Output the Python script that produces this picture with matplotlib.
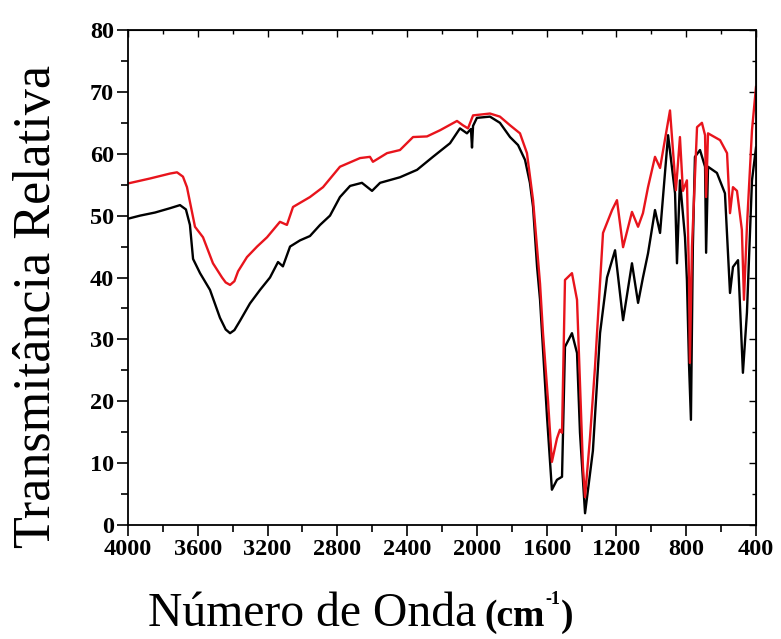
#!/usr/bin/env python3
import matplotlib
matplotlib.use('Agg')
import matplotlib.pyplot as plt
from matplotlib.ticker import MultipleLocator

# FTIR spectra: wavenumber (cm-1) and relative transmittance (%)
wn_black = [4000, 3931, 3845, 3759, 3702, 3668, 3645, 3627, 3587, 3530,
            3473, 3440, 3415, 3390, 3358, 3301, 3243, 3186, 3140, 3112,
            3071, 3014, 2957, 2899, 2842, 2785, 2727, 2659, 2601, 2555,
            2441, 2343, 2252, 2154, 2097, 2057, 2034, 2028, 2022, 2000,
            1925, 1868, 1810, 1764, 1724, 1696, 1678, 1655, 1638, 1598,
            1570, 1541, 1512, 1495, 1455, 1426, 1409, 1380, 1335, 1294,
            1254, 1208, 1162, 1111, 1076, 1048, 1019, 979, 950, 904,
            864, 853, 836, 807, 796, 784, 773, 762, 750, 721,
            692, 686, 675, 624, 578, 549, 532, 503, 475, 452,
            423, 400]
t_black = [49.5, 50.0, 50.5, 51.2, 51.7, 51.0, 48.5, 43.0, 40.7, 38.0,
           33.5, 31.6, 31.0, 31.5, 33.0, 35.8, 38.0, 40.0, 42.5, 41.8,
           45.0, 46.0, 46.7, 48.5, 50.0, 53.0, 54.8, 55.3, 54.0, 55.3,
           56.2, 57.4, 59.5, 61.7, 64.1, 63.3, 64.0, 61.0, 64.5, 65.8,
           66.0, 65.0, 62.7, 61.4, 59.0, 55.3, 51.4, 41.7, 36.4, 17.5,
           5.7, 7.3, 7.8, 28.8, 31.0, 27.8, 14.9, 1.9, 12.0, 31.0,
           40.0, 44.4, 33.1, 42.3, 35.9, 40.0, 43.9, 50.9, 47.2, 63.0,
           53.6, 42.3, 55.7, 46.5, 39.6, 26.0, 17.0, 45.0, 59.5, 60.6,
           57.9, 44.0, 57.9, 56.9, 53.6, 37.5, 41.7, 42.8, 24.6, 34.3,
           55.7, 61.0]

wn_red = [4000, 3874, 3759, 3719, 3685, 3662, 3616, 3570, 3513, 3461,
          3440, 3415, 3390, 3369, 3318, 3260, 3203, 3129, 3089, 3054,
          2957, 2882, 2785, 2670, 2613, 2596, 2515, 2441, 2366, 2286,
          2211, 2114, 2080, 2051, 2022, 1925, 1868, 1810, 1753, 1713,
          1678, 1638, 1621, 1592, 1570, 1541, 1524, 1512, 1495, 1455,
          1426, 1392, 1380, 1352, 1323, 1277, 1225, 1197, 1162, 1111,
          1076, 1048, 1019, 979, 950, 893, 859, 836, 819, 796,
          784, 779, 767, 738, 710, 692, 686, 675, 606, 566,
          549, 532, 509, 481, 469, 452, 423, 400]
t_red = [55.2, 56.0, 56.8, 57.0, 56.3, 54.6, 48.2, 46.5, 42.3, 40.0,
         39.2, 38.8, 39.4, 41.0, 43.3, 45.0, 46.5, 49.0, 48.5, 51.4,
         53.0, 54.6, 57.9, 59.3, 59.5, 58.7, 60.1, 60.6, 62.7, 62.8,
         63.8, 65.3, 64.6, 64.1, 66.2, 66.5, 66.0, 64.6, 63.3, 60.1,
         52.5, 39.0, 31.0, 20.0, 10.2, 14.0, 15.4, 14.9, 39.6, 40.7,
         36.4, 9.4, 4.5, 14.0, 25.5, 47.2, 50.9, 52.5, 44.9, 50.6,
         48.2, 50.4, 54.6, 59.5, 57.7, 67.0, 54.1, 62.7, 54.0, 55.7,
         40.0, 26.2, 45.0, 64.3, 65.0, 63.0, 53.0, 63.3, 62.2, 60.1,
         50.4, 54.6, 54.0, 47.7, 36.4, 48.2, 63.8, 70.8]

x_ticks = [4000, 3600, 3200, 2800, 2400, 2000, 1600, 1200, 800, 400]

plt.rcParams['font.family'] = 'Liberation Serif'

fig = plt.figure(figsize=(7.81, 6.39), dpi=100)
ax = fig.add_axes([128 / 781, 1 - 525 / 639, 628 / 781, 495 / 639])

ax.plot(wn_black, t_black, color='black', lw=1.7)
ax.plot(wn_red, t_red, color='#e8141c', lw=1.7)

ax.set_xlim(4000, 400)
ax.set_ylim(0, 80)
ax.set_xticks(x_ticks)
ax.xaxis.set_minor_locator(MultipleLocator(200))
ax.yaxis.set_major_locator(MultipleLocator(10))
ax.yaxis.set_minor_locator(MultipleLocator(5))

for sp in ax.spines.values():
    sp.set_linewidth(1.3)

ax.tick_params(which='both', direction='out', width=1.2, top=False, right=False)
ax.tick_params(which='major', length=8, labelsize=17.5, pad=2)
ax.tick_params(which='minor', length=5)
for lab in ax.get_xticklabels() + ax.get_yticklabels():
    lab.set_fontweight('bold')

# inward ticks on the top and right edges
top = ax.secondary_xaxis('top')
top.set_xticks(x_ticks)
top.xaxis.set_minor_locator(MultipleLocator(200))
top.tick_params(which='both', direction='in', labeltop=False, width=1.0)
top.tick_params(which='major', length=5)
top.tick_params(which='minor', length=3)
right = ax.secondary_yaxis('right')
right.yaxis.set_major_locator(MultipleLocator(10))
right.yaxis.set_minor_locator(MultipleLocator(5))
right.tick_params(which='both', direction='in', labelright=False, width=1.0)
right.tick_params(which='major', length=5)
right.tick_params(which='minor', length=3)

fig.text(37 / 781, 1 - 306 / 639, 'Transmitância Relativa', rotation=90,
         ha='center', va='center', fontsize=37.5)

# x label: plain part, then bold unit with a raised "-1"
base_y = 1 - 626 / 639
fig.text(148 / 781, base_y, 'Número de Onda', ha='left', va='baseline', fontsize=34.3)
renderer = fig.canvas.get_renderer()
unit = fig.text(484 / 781, base_y, '(cm', ha='left', va='baseline',
                fontsize=27, fontweight='bold')
x1 = unit.get_window_extent(renderer).x1
sup = fig.text(x1 / 781 + 0.001, base_y + 22 / 639, '-1', ha='left',
               va='baseline', fontsize=13, fontweight='bold')
x2 = sup.get_window_extent(renderer).x1
fig.text(x2 / 781 + 0.001, base_y, ')', ha='left', va='baseline',
         fontsize=27, fontweight='bold')

fig.savefig('out.png', dpi=100)
